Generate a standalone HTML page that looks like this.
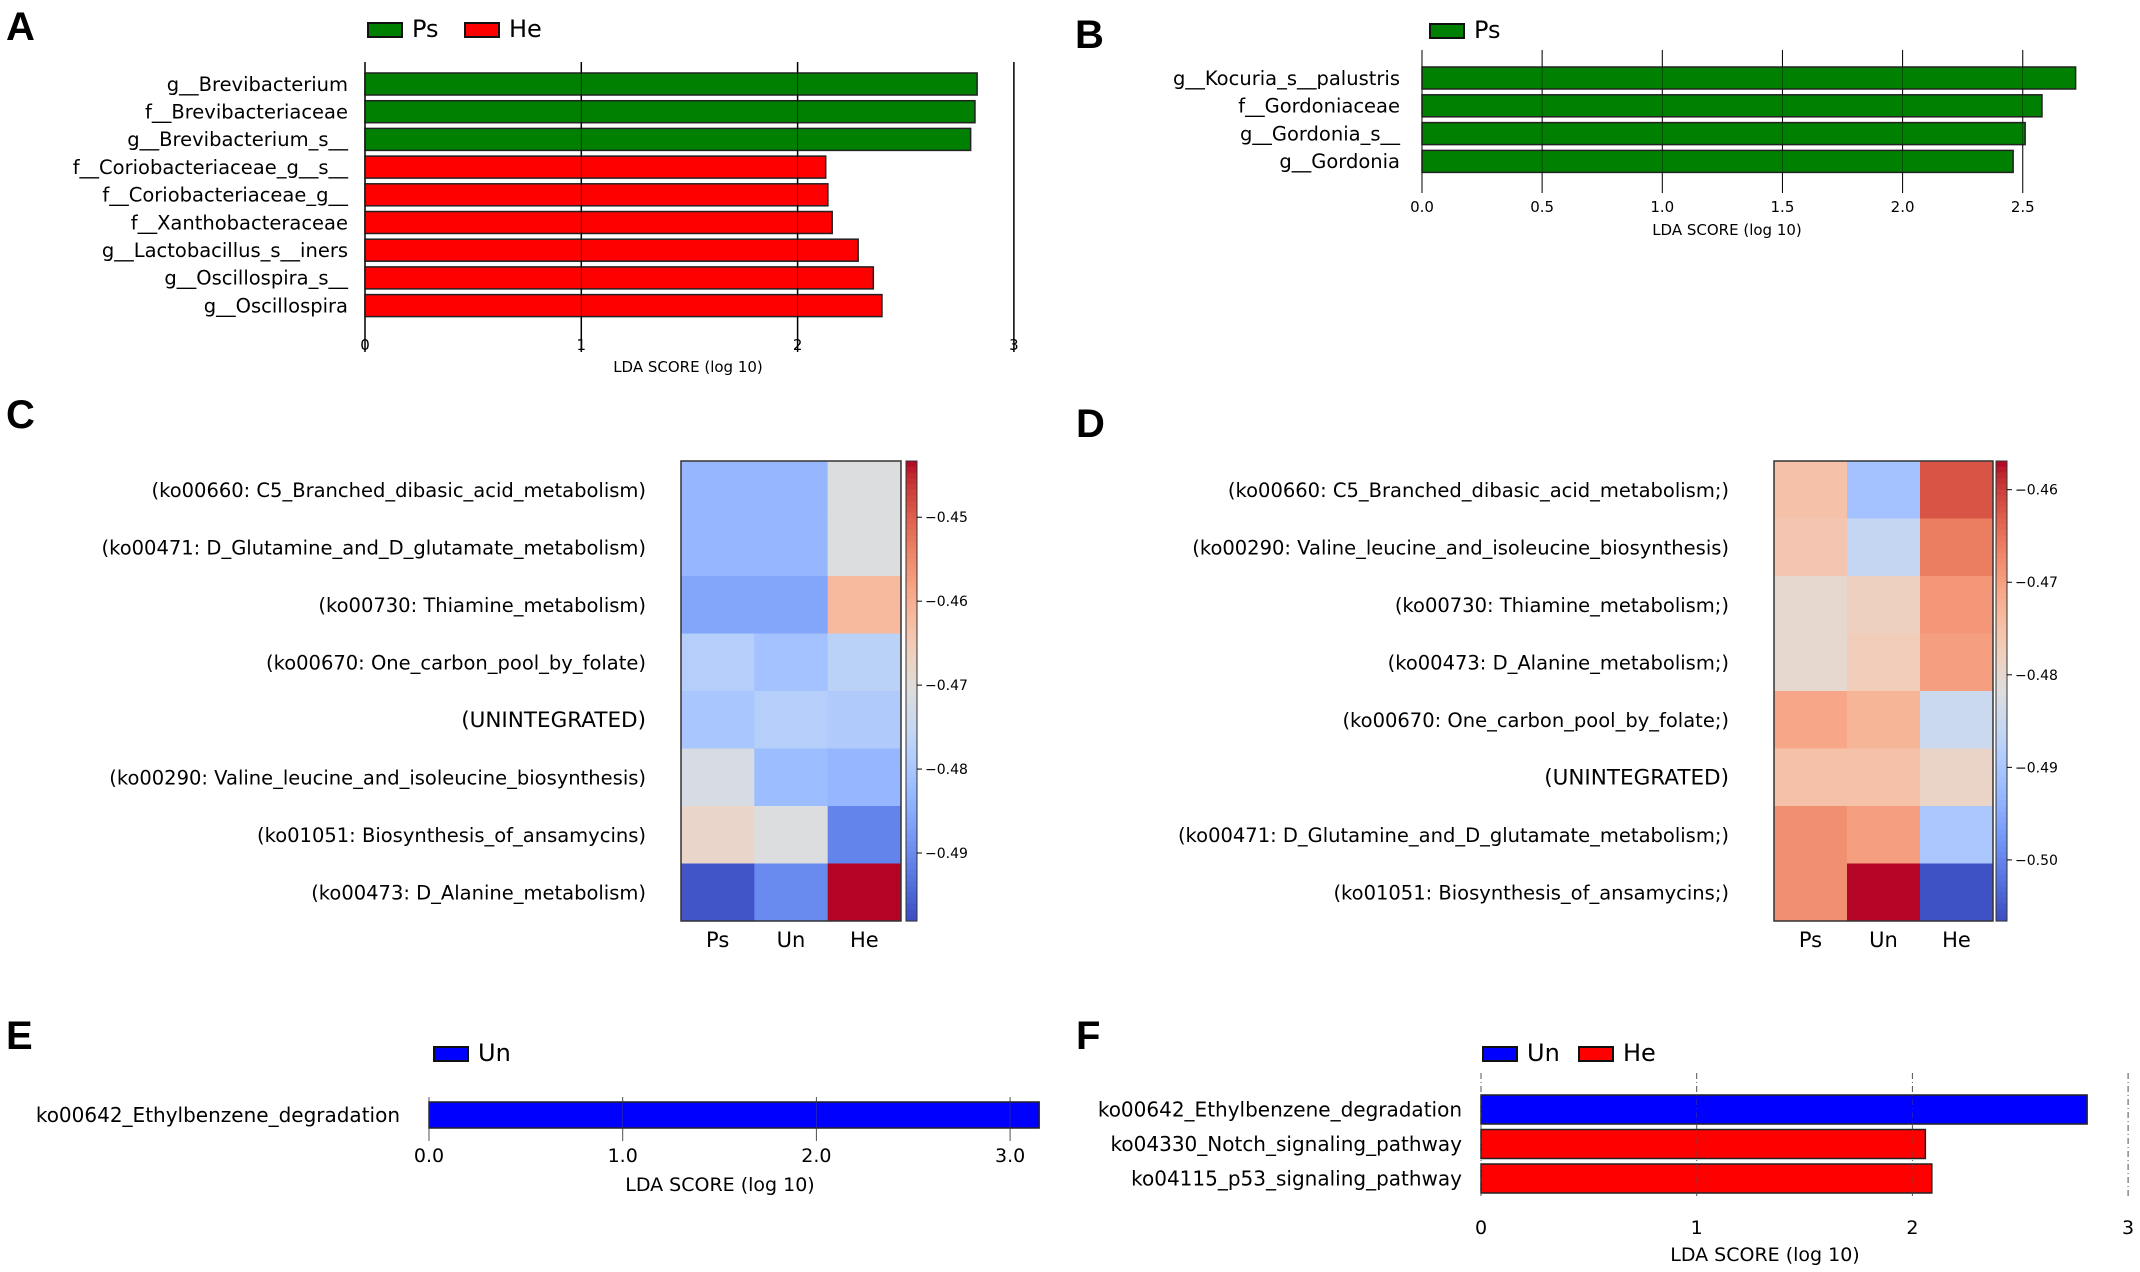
<!DOCTYPE html>
<html><head><meta charset="utf-8">
<style>
html,body{margin:0;padding:0;background:#fff;}
svg{display:block;font-family:"DejaVu Sans","Liberation Sans",sans-serif;}
</style></head>
<body>
<svg id="fig" width="2140" height="1272" viewBox="0 0 2140 1272" xmlns="http://www.w3.org/2000/svg">
<rect x="0" y="0" width="2140" height="1272" fill="#fff"/>
<g font-family="Liberation Sans, sans-serif" font-weight="bold" font-size="40" fill="#000">
<text x="6" y="40">A</text>
<text x="1075" y="48">B</text>
<text x="6" y="428">C</text>
<text x="1076" y="437">D</text>
<text x="6" y="1049">E</text>
<text x="1076" y="1049">F</text>
</g>
</svg>
<script>
// ---- Panel A data
const aLabels = ["g__Brevibacterium","f__Brevibacteriaceae","g__Brevibacterium_s__","f__Coriobacteriaceae_g__s__","f__Coriobacteriaceae_g__","f__Xanthobacteraceae","g__Lactobacillus_s__iners","g__Oscillospira_s__","g__Oscillospira"];
const aValues = [2.83,2.82,2.80,2.13,2.14,2.16,2.28,2.35,2.39];
const aGroups = ["Ps","Ps","Ps","He","He","He","He","He","He"];
const aTicks = [0,1,2,3];
// ---- Panel B data
const bLabels = ["g__Kocuria_s__palustris","f__Gordoniaceae","g__Gordonia_s__","g__Gordonia"];
const bValues = [2.72,2.58,2.51,2.46];
const bTicks = [0,0.5,1.0,1.5,2.0,2.5];
// ---- Panel C data
const cRows = ["(ko00660: C5_Branched_dibasic_acid_metabolism)","(ko00471: D_Glutamine_and_D_glutamate_metabolism)","(ko00730: Thiamine_metabolism)","(ko00670: One_carbon_pool_by_folate)","(UNINTEGRATED)","(ko00290: Valine_leucine_and_isoleucine_biosynthesis)","(ko01051: Biosynthesis_of_ansamycins)","(ko00473: D_Alanine_metabolism)"];
const cCols = ["Ps","Un","He"];
const cPs = [-0.483,-0.483,-0.486,-0.478,-0.480,-0.472,-0.468,-0.497];
const cUn = [-0.483,-0.483,-0.486,-0.481,-0.478,-0.482,-0.471,-0.490];
const cHe = [-0.471,-0.471,-0.462,-0.477,-0.479,-0.483,-0.491,-0.443];
const cTicks = [-0.45,-0.46,-0.47,-0.48,-0.49];
// ---- Panel D data
const dRows = ["(ko00660: C5_Branched_dibasic_acid_metabolism;)","(ko00290: Valine_leucine_and_isoleucine_biosynthesis)","(ko00730: Thiamine_metabolism;)","(ko00473: D_Alanine_metabolism;)","(ko00670: One_carbon_pool_by_folate;)","(UNINTEGRATED)","(ko00471: D_Glutamine_and_D_glutamate_metabolism;)","(ko01051: Biosynthesis_of_ansamycins;)"];
const dCols = ["Ps","Un","He"];
const dPs = [-0.475,-0.476,-0.480,-0.480,-0.471,-0.475,-0.468,-0.468];
const dUn = [-0.491,-0.486,-0.478,-0.477,-0.473,-0.475,-0.470,-0.457];
const dHe = [-0.462,-0.466,-0.469,-0.470,-0.485,-0.479,-0.490,-0.506];
const dTicks = [-0.46,-0.47,-0.48,-0.49,-0.50];
// ---- Panel E data
const eLabels = ["ko00642_Ethylbenzene_degradation"];
const eValues = [3.15];
const eTicks = [0,1,2,3];
// ---- Panel F data
const fLabels = ["ko00642_Ethylbenzene_degradation","ko04330_Notch_signaling_pathway","ko04115_p53_signaling_pathway"];
const fValues = [2.81,2.06,2.09];
const fGroups = ["Un","He","He"];
const fTicks = [0,1,2,3];

const NS="http://www.w3.org/2000/svg";
const svg=document.getElementById('fig');
function el(tag,attrs,parent,txt){const e=document.createElementNS(NS,tag);for(const k in attrs)e.setAttribute(k,attrs[k]);if(txt!==undefined)e.textContent=txt;(parent||svg).appendChild(e);return e;}
const groupColor={Ps:"#008000",He:"#ff0000",Un:"#0000ff"};

const CW=[[59,76,192],[68,90,204],[77,104,215],[87,117,225],[98,130,234],[108,142,241],[119,154,247],[130,165,251],[141,176,254],[152,185,255],[163,194,255],[174,201,253],[184,208,249],[194,213,244],[204,217,238],[213,219,230],[221,221,221],[229,216,209],[236,211,197],[241,204,185],[245,196,173],[247,187,160],[247,177,148],[247,166,135],[244,154,123],[241,141,111],[236,127,99],[229,112,88],[222,96,77],[213,80,66],[203,62,56],[192,40,47],[180,4,38]];
function coolwarm(t){t=Math.max(0,Math.min(1,t));const p=t*32,i=Math.min(31,Math.floor(p)),f=p-i;const a=CW[i],b=CW[i+1];return "rgb("+a.map((v,k)=>Math.round(v+(b[k]-v)*f)).join(",")+")";}

function barPanel(cfg){
  const g=el('g',{});
  
  
  const xs=v=>cfg.x0+v*cfg.unit;
  cfg.ticks.forEach((t,i)=>{
    const ln=el('line',{x1:xs(t),x2:xs(t),y1:cfg.gTop,y2:cfg.gBot,stroke:cfg.gridColor,'stroke-width':cfg.gridW,'stroke-dasharray':cfg.dash||'none'},g);
    
    
    const tx=el('text',{x:xs(t),y:cfg.tickY,'text-anchor':'middle','font-size':cfg.tickFs,fill:'#000'},g,cfg.tickFmt(t));
    
    
  });
  cfg.values.forEach((v,i)=>{
    const y=cfg.barTop+i*cfg.step;
    const r=el('rect',{x:xs(0),y:y,width:xs(v)-xs(0),height:cfg.barH,fill:groupColor[cfg.groups[i]],stroke:'#222','stroke-width':1.5},g);
    
    
    const t=el('text',{x:cfg.labelX,y:y+cfg.barH/2+cfg.labelFs*0.35,'text-anchor':'end','font-size':cfg.labelFs,fill:'#000'},g,cfg.labels[i]);
    
    
  });
  cfg.ticks.forEach(t=>{
    const ln=el('line',{x1:xs(t),x2:xs(t),y1:cfg.gTop,y2:cfg.gBot,stroke:cfg.gridColor,'stroke-width':cfg.gridW*0.6,'stroke-dasharray':cfg.dash||'none',opacity:0.6},g);
    
    
  });
  const xl=el('text',{x:cfg.xlX,y:cfg.xlY,'text-anchor':'middle','font-size':cfg.xlFs,fill:'#000'},g,'LDA SCORE (log 10)');
  
  
  cfg.legend.forEach(L=>{
    const r=el('rect',{x:L.x,y:cfg.legY,width:34,height:14,fill:groupColor[L.k],stroke:'#111','stroke-width':2},g);
    
    
    const t=el('text',{x:L.x+44,y:cfg.legY+14,'font-size':24,fill:'#000'},g,L.k);
    
    
  });
}

barPanel({name:'panel-a-lda-chart',x0:365,unit:216.3,ticks:aTicks,values:aValues,groups:aGroups,labels:aLabels,
  gTop:62,gBot:352,gridColor:'#000',gridW:1.5,tickY:350,tickFs:15,tickFmt:t=>String(t),
  barTop:73,step:27.7,barH:22,labelX:348,labelFs:19.5,xlX:688,xlY:372,xlFs:15,legY:23,
  legend:[{k:'Ps',x:368},{k:'He',x:465}]});
barPanel({name:'panel-b-lda-chart',x0:1422,unit:240.3,ticks:bTicks,values:bValues,groups:bValues.map(()=>'Ps'),labels:bLabels,
  gTop:50,gBot:193,gridColor:'#000',gridW:1,tickY:212,tickFs:15,tickFmt:t=>t.toFixed(1),
  barTop:67,step:27.8,barH:22,labelX:1400,labelFs:19.5,xlX:1727,xlY:235,xlFs:15,legY:24,
  legend:[{k:'Ps',x:1430}]});
barPanel({name:'panel-e-lda-chart',x0:429,unit:193.7,ticks:eTicks,values:eValues,groups:['Un'],labels:eLabels,
  gTop:1097,gBot:1141,gridColor:'#555',gridW:1,tickY:1162,tickFs:19,tickFmt:t=>t.toFixed(1),
  barTop:1102,step:30,barH:26,labelX:400,labelFs:20,xlX:720,xlY:1191,xlFs:19,legY:1047,
  legend:[{k:'Un',x:434}]});
barPanel({name:'panel-f-lda-chart',x0:1481,unit:215.7,ticks:fTicks,values:fValues,groups:fGroups,labels:fLabels,
  gTop:1073,gBot:1197,gridColor:'#555',gridW:1,dash:'6,3,1,3',tickY:1234,tickFs:19,tickFmt:t=>String(t),
  barTop:1095,step:34.5,barH:29,labelX:1462,labelFs:20,xlX:1765,xlY:1261,xlFs:19,legY:1047,
  legend:[{k:'Un',x:1483},{k:'He',x:1579}]});

function heatPanel(cfg){
  const g=el('g',{});
  
  
  const cw=(cfg.x1-cfg.x0)/cfg.cols.length, rh=(cfg.y1-cfg.y0)/cfg.rows.length;
  const norm=v=>(v-cfg.vmin)/(cfg.vmax-cfg.vmin);
  cfg.series.forEach((arr,c)=>{
    arr.forEach((v,r)=>{
      const cell=el('rect',{x:cfg.x0+c*cw,y:cfg.y0+r*rh,width:cw+0.5,height:rh+0.5,fill:coolwarm(norm(v))},g);
      
      
    });
  });
  const fr=el('rect',{x:cfg.x0,y:cfg.y0,width:cfg.x1-cfg.x0,height:cfg.y1-cfg.y0,fill:'none',stroke:'#333','stroke-width':1.5},g);
  
  
  cfg.rows.forEach((lab,r)=>{
    const fs=lab==='(UNINTEGRATED)'?21.5:19.5;
    const t=el('text',{x:cfg.labelX,y:cfg.y0+(r+0.5)*rh+7,'text-anchor':'end','font-size':fs,fill:'#000'},g,lab);
    
    
  });
  cfg.cols.forEach((lab,c)=>{
    const t=el('text',{x:cfg.x0+(c+0.5)*cw,y:cfg.y1+26,'text-anchor':'middle','font-size':21,fill:'#000'},g,lab);
    
    
  });
  const steps=80,h=(cfg.y1-cfg.y0)/steps;
  for(let i=0;i<steps;i++){
    const s=el('rect',{x:cfg.cbX,y:cfg.y0+i*h,width:11,height:h+0.6,fill:coolwarm(1-(i+0.5)/steps)},g);
    
    
  }
  const cb=el('rect',{x:cfg.cbX,y:cfg.y0,width:11,height:cfg.y1-cfg.y0,fill:'none',stroke:'#333','stroke-width':1},g);
  
  
  cfg.ticks.forEach(t=>{
    const y=cfg.y1-norm(t)*(cfg.y1-cfg.y0);
    const ln=el('line',{x1:cfg.cbX+11,x2:cfg.cbX+16,y1:y,y2:y,stroke:'#000','stroke-width':1},g);
    
    
    const tx=el('text',{x:cfg.cbX+19,y:y+5,'font-size':14,fill:'#000'},g,'\u2212'+Math.abs(t).toFixed(2));
    
    
  });
}
heatPanel({name:'panel-c-heatmap',x0:681,x1:901,y0:461,y1:921,rows:cRows,cols:cCols,series:[cPs,cUn,cHe],vmin:-0.4981,vmax:-0.4433,ticks:cTicks,cbX:906,labelX:646});
heatPanel({name:'panel-d-heatmap',x0:1774,x1:1993,y0:461,y1:921,rows:dRows,cols:dCols,series:[dPs,dUn,dHe],vmin:-0.5066,vmax:-0.4569,ticks:dTicks,cbX:1996,labelX:1729});
</script>
</body></html>
